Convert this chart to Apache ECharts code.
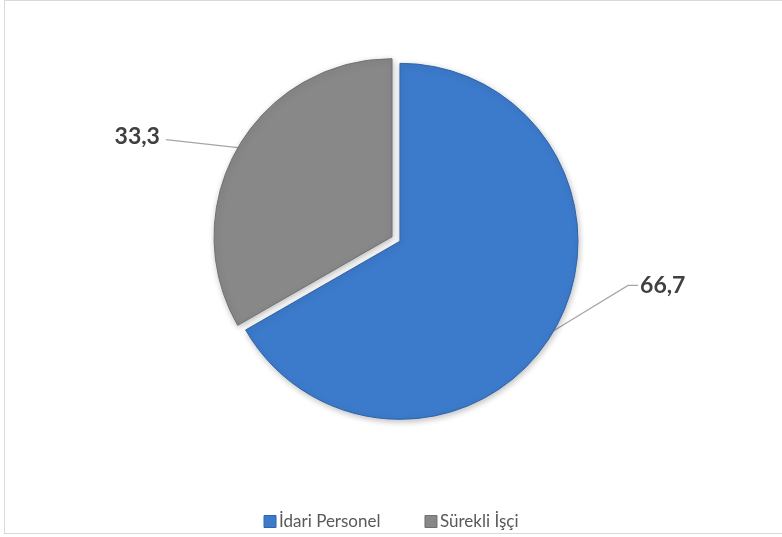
<!DOCTYPE html>
<html>
<head>
<meta charset="utf-8">
<script src="https://cdn.jsdelivr.net/npm/echarts@6/dist/echarts.min.js"></script>
<style>
  html, body { margin: 0; padding: 0; background: #ffffff; overflow: hidden; width: 782px; height: 537px; }
  #frame { position: absolute; left: 4px; top: 0px; width: 800px; height: 534px; border: 1px solid #d9d9d9; box-sizing: border-box; }
  #chart { position: absolute; left: 0; top: 0; width: 782px; height: 537px; }
</style>
</head>
<body>
<div id="frame"></div>
<div id="chart"></div>
<script>
var categories = ['İdari Personel', 'Sürekli İşçi'];
var values = [66.7, 33.3];
var colors = ['#3c7acb', '#888888'];
var borderColors = ['#2f64a8', '#707070'];

var FONT = 'Lato, "Liberation Sans", sans-serif';
var BASE_CENTER = [396, 239];
var RADIUS = 178;
var EXPLODE = 4.6;

var chart = echarts.init(document.getElementById('chart'), null, { renderer: 'canvas' });

var total = values.reduce(function (a, b) { return a + b; }, 0);
var cum = 0;
var series = categories.map(function (name, i) {
  var mid = (cum + values[i] / 2) / total * 2 * Math.PI; // clockwise from top
  cum += values[i];
  var cx = BASE_CENTER[0] + Math.sin(mid) * EXPLODE;
  var cy = BASE_CENTER[1] - Math.cos(mid) * EXPLODE;
  return {
    type: 'pie',
    name: name,
    center: [cx, cy],
    radius: RADIUS,
    startAngle: 90,
    clockwise: true,
    z: 2,
    emphasis: { disabled: true },
    data: categories.map(function (n, j) {
      var own = (j === i);
      return {
        name: n,
        value: values[j],
        itemStyle: own
          ? { color: colors[j], borderColor: borderColors[j], borderWidth: 1, shadowBlur: 6, shadowColor: 'rgba(0,0,0,0.25)', shadowOffsetX: 1, shadowOffsetY: 2 }
          : { color: 'rgba(0,0,0,0)', borderWidth: 0 },
        label: { show: own },
        labelLine: { show: own }
      };
    }),
    label: {
      position: 'outside',
      formatter: function (p) { return String(p.value).replace('.', ','); },
      fontSize: 23,
      fontWeight: 'bold',
      color: '#404040',
      fontFamily: FONT
    },
    labelLine: { length: 10, length2: 60, lineStyle: { color: '#a6a6a6', width: 1.3 } },
    labelLayout: function (params) {
      var p = params.labelLinePoints;
      if (!p) return {};
      var s = p[0];
      if (params.dataIndex === 0) {
        var ex = s[0] + 74, ey = s[1] - 45;
        return { x: ex + 12, y: ey, align: 'left', verticalAlign: 'middle', labelLinePoints: [s, [ex, ey], [ex + 10, ey]] };
      } else {
        var gx = s[0] - 72, gy = s[1] - 8;
        return { x: gx - 6, y: gy - 3, align: 'right', verticalAlign: 'middle', labelLinePoints: [s, [gx, gy], [gx, gy]] };
      }
    }
  };
});

chart.setOption({
  animation: false,
  textStyle: { fontFamily: FONT },
  legend: {
    data: categories.map(function (n, i) {
      return { name: n, itemStyle: { color: colors[i], borderColor: borderColors[i], borderWidth: 1 } };
    }),
    bottom: 2,
    left: 'center',
    icon: 'rect',
    itemWidth: 12,
    itemHeight: 12,
    itemGap: 44,
    selectedMode: false,
    textStyle: { fontSize: 17, color: '#595959', fontFamily: FONT, padding: [0, 0, 0, -2] }
  },
  series: series
});
</script>
</body>
</html>
